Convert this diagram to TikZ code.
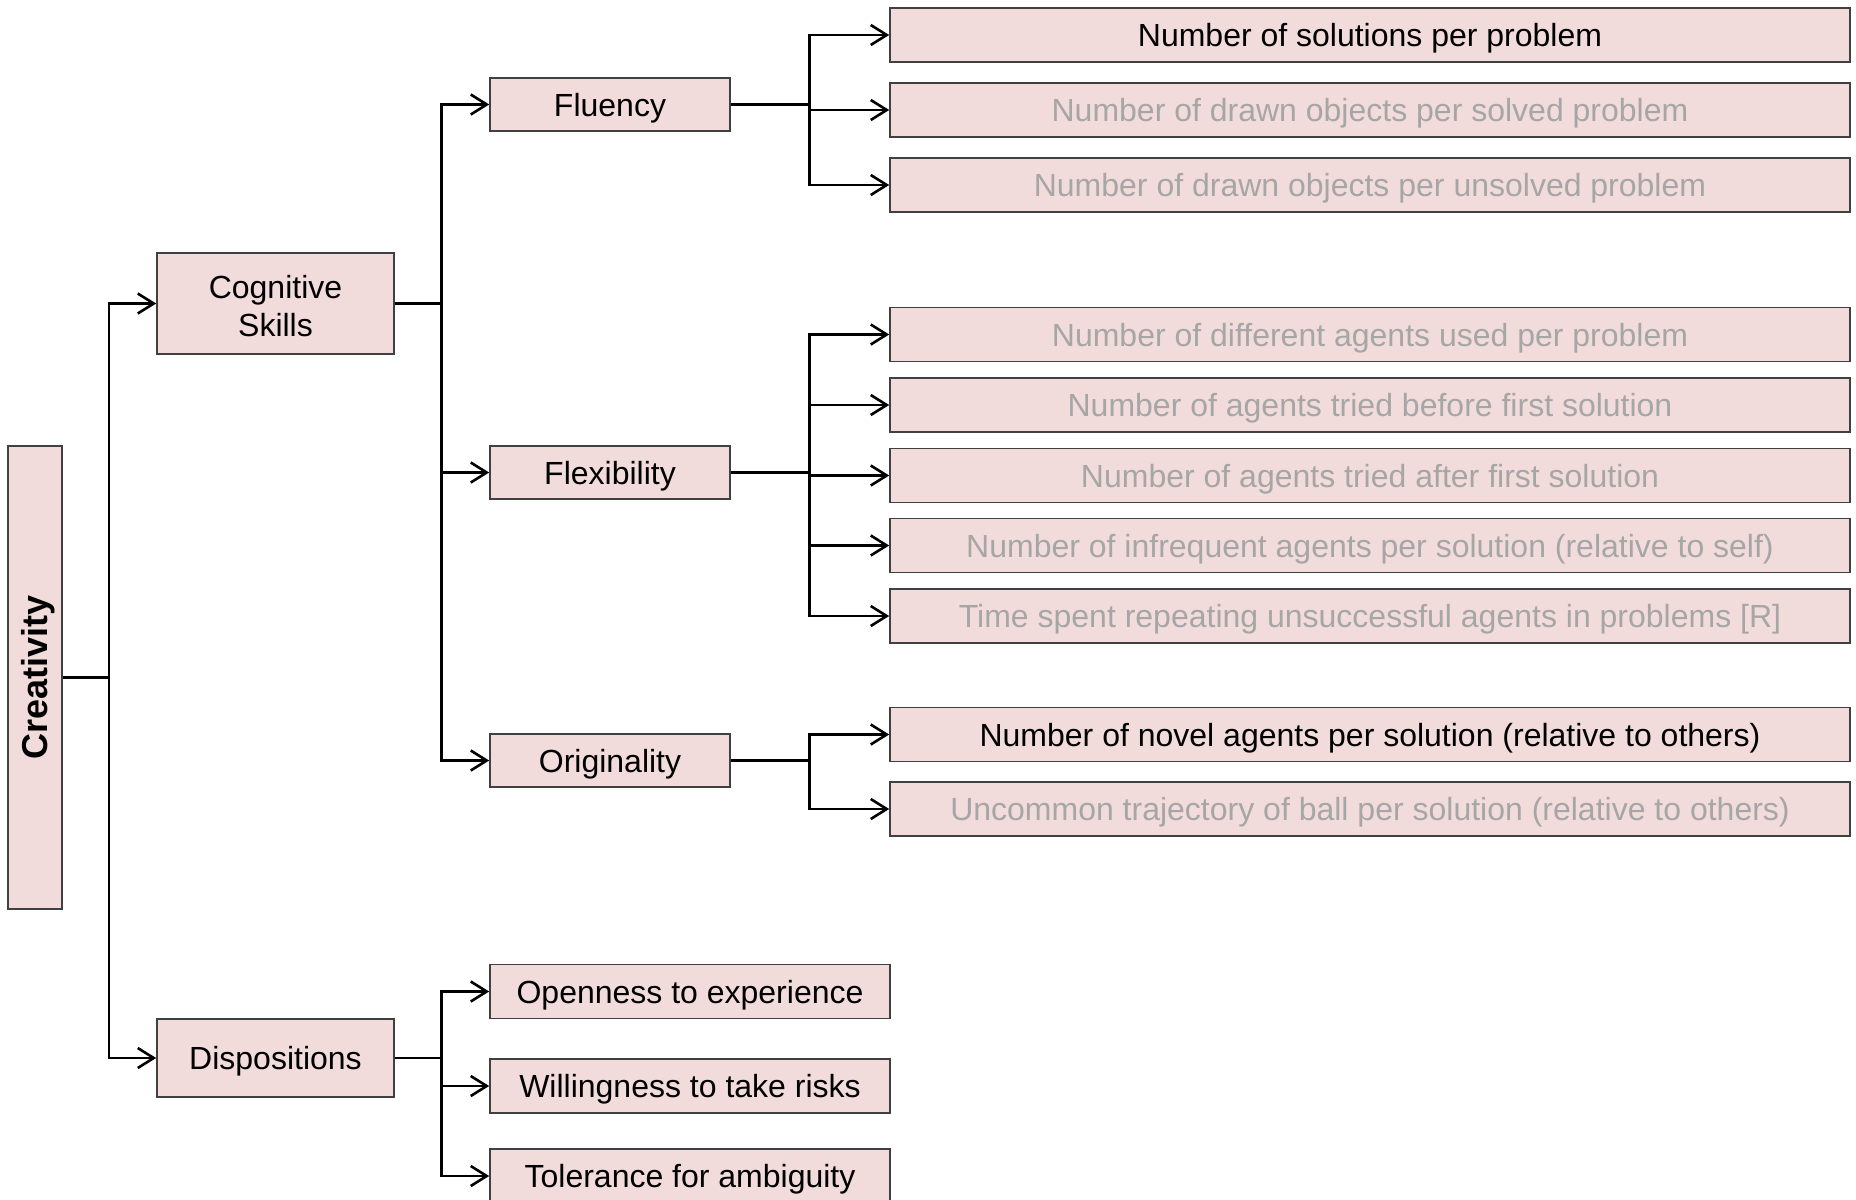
\documentclass[tikz,border=0pt]{standalone}
\usepackage{fontspec}
\setmainfont{Liberation Sans}
\usetikzlibrary{arrows.meta}
\definecolor{boxfill}{HTML}{F2DCDB}
\definecolor{boxline}{HTML}{404040}
\definecolor{dimtext}{HTML}{A6A6A6}
\tikzset{
  basebox/.style={draw=boxline, fill=boxfill, line width=0.8pt, inner sep=0pt,
    align=center},
  box/.style={basebox, font=\fontsize{16}{19}\selectfont,
    text height=14pt, text depth=2.2pt},
  rootbox/.style={basebox, minimum width=27pt, minimum height=231.5pt,
    font=\fontsize{18}{21}\selectfont\bfseries},
  twoline/.style={basebox, font=\fontsize{16}{19}\selectfont,
    text height=33pt, text depth=0.2pt,
    minimum width=118.5pt, minimum height=50.5pt},
  midbox/.style={box, minimum width=118.5pt, minimum height=39pt},
  subbox/.style={box, minimum width=120pt, minimum height=26.5pt},
  leafbox/.style={box, minimum width=480pt, minimum height=27pt},
  dispbox/.style={box, minimum width=200pt, minimum height=27pt},
  dim/.style={text=dimtext},
  conn/.style={draw=black, line width=1.3pt},
  arr/.style={conn, -{Straight Barb[length=8pt, width=10pt, line width=1.3pt]}}
}
\begin{document}
\begin{tikzpicture}[x=0.5pt, y=-0.5pt]
\useasboundingbox (0,0) rectangle (1856,1199);
\clip (0,0) rectangle (1856,1199);

% root and first level
\node[rootbox] (cre) at (35,677.5) {\hspace*{3pt}\rotatebox{90}{Creativity}};
\node[twoline] (cog) at (275.5,303.5) {Cognitive\\Skills};
\node[midbox] (dis) at (275.5,1058) {Dispositions};

% cognitive skills
\node[subbox] (flu) at (610,104.5) {Fluency};
\node[subbox] (fle) at (610,472.5) {Flexibility};
\node[subbox] (ori) at (610,760.5) {Originality};

% fluency measures
\node[leafbox] (fl1) at (1370,35) {Number of solutions per problem};
\node[leafbox, dim] (fl2) at (1370,110) {Number of drawn objects per solved problem};
\node[leafbox, dim] (fl3) at (1370,185) {Number of drawn objects per unsolved problem};

% flexibility measures
\node[leafbox, dim] (fx1) at (1370,334.5) {Number of different agents used per problem};
\node[leafbox, dim] (fx2) at (1370,405) {Number of agents tried before first solution};
\node[leafbox, dim] (fx3) at (1370,475.5) {Number of agents tried after first solution};
\node[leafbox, dim] (fx4) at (1370,545.5) {Number of infrequent agents per solution (relative to self)};
\node[leafbox, dim] (fx5) at (1370,616) {Time spent repeating unsuccessful agents in problems [R]};

% originality measures
\node[leafbox] (or1) at (1370,734.5) {Number of novel agents per solution (relative to others)};
\node[leafbox, dim] (or2) at (1370,809) {Uncommon trajectory of ball per solution (relative to others)};

% dispositions
\node[dispbox] (dp1) at (690,991.5) {Openness to experience};
\node[dispbox] (dp2) at (690,1086) {Willingness to take risks};
\node[dispbox] (dp3) at (690,1176) {Tolerance for ambiguity};

% branching points
\coordinate (crej) at (109,677.5);
\coordinate (cogj) at (441.5,303.5);
\coordinate (disj) at (441.5,1058);
\coordinate (fluj) at (809.5,104.5);
\coordinate (flej) at (809.5,472.5);
\coordinate (orij) at (809.5,760.5);

% connectors
\foreach \c in {cog,dis} \draw[arr] (cre.east) -- (crej) |- (\c.west);
\foreach \c in {flu,fle,ori} \draw[arr] (cog.east) -- (cogj) |- (\c.west);
\foreach \c in {fl1,fl2,fl3} \draw[arr] (flu.east) -- (fluj) |- (\c.west);
\foreach \c in {fx1,fx2,fx3,fx4,fx5} \draw[arr] (fle.east) -- (flej) |- (\c.west);
\foreach \c in {or1,or2} \draw[arr] (ori.east) -- (orij) |- (\c.west);
\foreach \c in {dp1,dp2,dp3} \draw[arr] (dis.east) -- (disj) |- (\c.west);
\end{tikzpicture}
\end{document}
